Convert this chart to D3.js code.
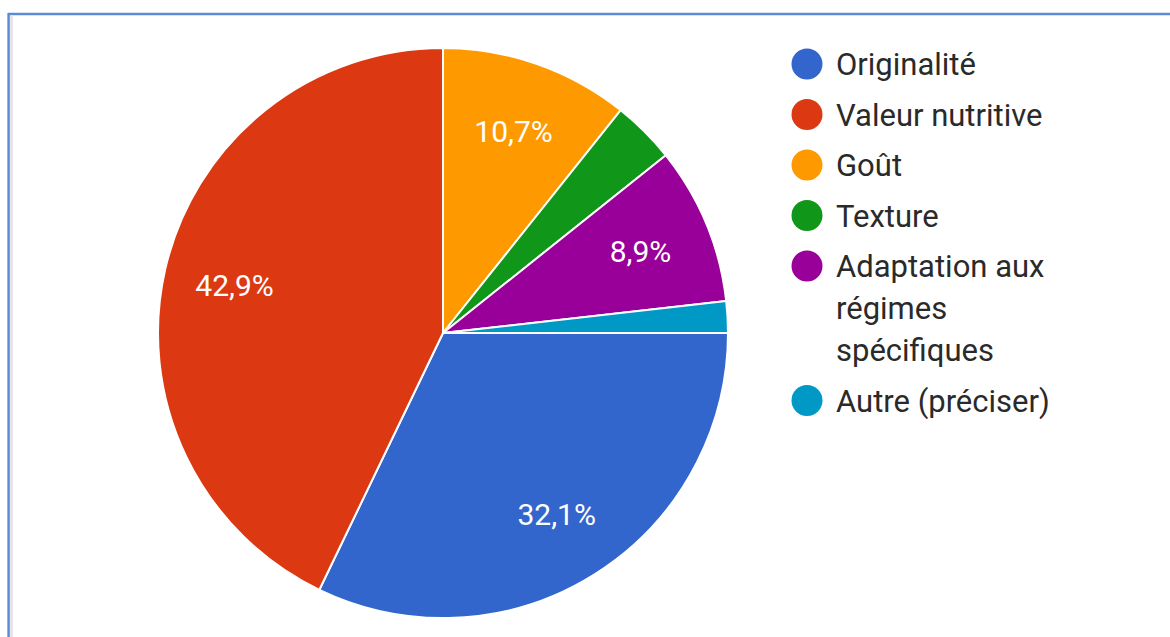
<!DOCTYPE html>
<html>
<head>
<meta charset="utf-8">
<script src="https://cdn.jsdelivr.net/npm/d3@7"></script>
<style>
  html, body { margin: 0; padding: 0; background: #fff; }
  svg { display: block; font-family: Roboto, "Noto Sans", Arial, sans-serif; }
</style>
</head>
<body>
<svg id="chart" width="1170" height="637"></svg>
<script>
// Survey answers (n = 56), in legend order
const categories = [
  "Originalité",
  "Valeur nutritive",
  "Goût",
  "Texture",
  "Adaptation aux régimes spécifiques",
  "Autre (préciser)"
];
const counts = [18, 24, 6, 2, 5, 1];
const percentLabels = ["32,1%", "42,9%", "10,7%", "", "8,9%", ""];
const colors = ["#3366cc", "#dc3912", "#ff9900", "#109618", "#990099", "#0099c6"];

const W = 1170, H = 637;
const cx = 443, cy = 333, radius = 285;

const svg = d3.select("#chart");

// Frame around the card: blue top and left edges with a faint inner shadow
svg.append("line").attr("x1", 8).attr("x2", W).attr("y1", 14).attr("y2", 14)
  .attr("stroke", "#5b8bd8").attr("stroke-width", 2.5);
svg.append("line").attr("x1", 11.5).attr("x2", 11.5).attr("y1", 15).attr("y2", H)
  .attr("stroke", "#e2e2e2").attr("stroke-width", 2.5);
svg.append("line").attr("x1", 8.6).attr("x2", 8.6).attr("y1", 13).attr("y2", H)
  .attr("stroke", "#5b8bd8").attr("stroke-width", 2.5);

const color = d3.scaleOrdinal().domain(categories).range(colors);

const data = categories.map((c, i) => ({ name: c, value: counts[i], label: percentLabels[i] }));

// Pie starts at 3 o'clock and runs clockwise in legend order
const pie = d3.pie()
  .value(d => d.value)
  .sort(null)
  .startAngle(Math.PI / 2)
  .endAngle(Math.PI / 2 + 2 * Math.PI);

const arcs = pie(data);
const arc = d3.arc().innerRadius(0).outerRadius(radius);
const labelArc = d3.arc().innerRadius(radius * 0.75).outerRadius(radius * 0.75);

const g = svg.append("g").attr("transform", `translate(${cx},${cy})`);

g.selectAll("path.slice")
  .data(arcs)
  .join("path")
  .attr("class", "slice")
  .attr("d", arc)
  .attr("fill", d => color(d.data.name))
  .attr("stroke", "#ffffff")
  .attr("stroke-width", 2)
  .attr("stroke-linejoin", "round");

g.selectAll("text.pct")
  .data(arcs.filter(d => d.data.label))
  .join("text")
  .attr("class", "pct")
  .attr("transform", d => `translate(${labelArc.centroid(d)})`)
  .attr("text-anchor", "middle")
  .attr("dy", "0.36em")
  .attr("fill", "#ffffff")
  .attr("font-size", 30)
  .text(d => d.data.label);

// Legend with word wrapping
const legendX = 807, textX = 836, maxTextWidth = 235;
const rowGap = 50.5, lineGap = 42;
const legend = svg.append("g");
let y = 64;

categories.forEach((name, i) => {
  const item = legend.append("g");
  item.append("circle")
    .attr("cx", legendX).attr("cy", y).attr("r", 15.5)
    .attr("fill", colors[i]);

  const text = item.append("text")
    .attr("fill", "#2a2a2a")
    .attr("font-size", 31);

  const words = name.split(" ");
  let lines = [];
  let current = [];
  const probe = text.append("tspan");
  words.forEach(w => {
    const trial = current.concat(w).join(" ");
    probe.text(trial);
    if (current.length && probe.node().getComputedTextLength() > maxTextWidth) {
      lines.push(current.join(" "));
      current = [w];
    } else {
      current.push(w);
    }
  });
  lines.push(current.join(" "));
  probe.remove();

  lines.forEach((ln, k) => {
    text.append("tspan")
      .attr("x", textX)
      .attr("y", y + k * lineGap)
      .attr("dy", "0.36em")
      .text(ln);
  });

  y += (lines.length - 1) * lineGap + rowGap;
});
</script>
</body>
</html>
